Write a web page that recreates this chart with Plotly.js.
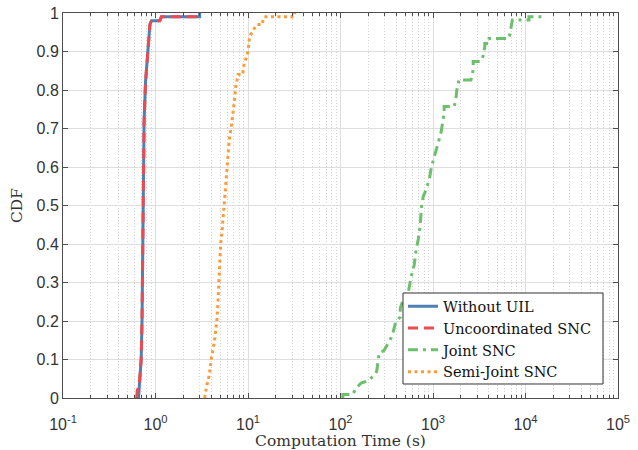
<!DOCTYPE html>
<html>
<head>
<meta charset="utf-8">
<script src="https://cdn.plot.ly/plotly-3.0.1.min.js"></script>
<style>
  html, body { margin: 0; padding: 0; background: #fff; }
  #chart { width: 638px; height: 450px; }
</style>
</head>
<body>
<div id="chart"></div>
<script>
// Empirical CDFs of computation time (seconds) for each scheme
const seriesNames = ["Without UIL", "Uncoordinated SNC", "Joint SNC", "Semi-Joint SNC"];

const withoutUilTime = [0.655, 0.665, 0.70, 0.715, 0.73, 0.74, 0.753, 0.78, 0.82, 0.87, 0.905, 1.11, 1.16, 3.0, 3.0];
const withoutUilCdf  = [0, 0.03, 0.1, 0.2, 0.4, 0.55, 0.72, 0.82, 0.9, 0.97, 0.98, 0.98, 0.99, 0.99, 1.0];

const uncoordTime = [0.625, 0.635, 0.665, 0.70, 0.715, 0.73, 0.74, 0.753, 0.78, 0.82, 0.87, 0.905, 1.11, 1.16, 2.95];
const uncoordCdf  = [0, 0.02, 0.03, 0.1, 0.2, 0.4, 0.55, 0.72, 0.82, 0.9, 0.97, 0.98, 0.98, 0.99, 0.99];

const jointTime = [106, 106, 135, 148, 167, 189, 209, 232, 246, 252, 257, 262, 295, 322, 352, 372, 390, 397, 443, 443,
                   468, 518, 543, 575, 627, 653, 696, 728, 751, 783, 837, 910, 964, 1030, 1120, 1217, 1268, 1319, 1319,
                   1694, 1765, 1810, 1887, 1887, 2570, 2690, 2720, 2720, 3280, 3470, 3630, 3630, 4040, 4040, 6640, 6760,
                   6920, 7210, 10900, 10900, 15100, 15100];
const jointCdf  = [0, 0.009, 0.009, 0.026, 0.039, 0.043, 0.049, 0.06, 0.069, 0.086, 0.104, 0.117, 0.123, 0.138, 0.156,
                   0.173, 0.19, 0.199, 0.21, 0.234, 0.25, 0.264, 0.277, 0.31, 0.346, 0.38, 0.415, 0.45, 0.497, 0.523,
                   0.54, 0.567, 0.601, 0.627, 0.653, 0.688, 0.714, 0.74, 0.757, 0.757, 0.774, 0.8, 0.818, 0.826, 0.826,
                   0.843, 0.865, 0.874, 0.874, 0.887, 0.913, 0.921, 0.921, 0.934, 0.934, 0.947, 0.964, 0.982, 0.982,
                   0.99, 0.99, 1.0];

const semiTime = [3.4, 3.55, 3.82, 4.0, 4.33, 4.6, 4.74, 4.82, 4.9, 5.06, 5.27, 5.36, 5.6, 5.84, 6.05, 6.27, 6.6, 6.8,
                  6.95, 7.2, 7.35, 7.5, 7.7, 7.8, 8.75, 8.9, 9.1, 9.5, 10.0, 10.3, 10.6, 11.2, 11.7, 12.6, 14.3, 14.5,
                  15.0, 31.8, 31.8];
const semiCdf  = [0, 0.027, 0.06, 0.1, 0.147, 0.2, 0.25, 0.3, 0.346, 0.398, 0.44, 0.463, 0.515, 0.567, 0.62, 0.67, 0.705,
                  0.727, 0.753, 0.78, 0.807, 0.82, 0.833, 0.84, 0.84, 0.858, 0.87, 0.882, 0.9, 0.93, 0.943, 0.95, 0.96,
                  0.97, 0.97, 0.98, 0.99, 0.99, 1.0];

const xTickVals = [0.1, 1, 10, 100, 1000, 10000, 100000];
const xTickText = ["10<sup>-1</sup>", "10<sup>0</sup>", "10<sup>1</sup>", "10<sup>2</sup>", "10<sup>3</sup>", "10<sup>4</sup>", "10<sup>5</sup>"];

const colors = ["#4f7fb3", "#ef4950", "#6cbf6b", "#fd9a3a"];
const dashes = ["solid", "10px,6px", "10px,5px,3px,5px", "3px,3.5px"];

const traces = [
  { x: withoutUilTime, y: withoutUilCdf },
  { x: uncoordTime, y: uncoordCdf },
  { x: jointTime, y: jointCdf },
  { x: semiTime, y: semiCdf }
].map((d, i) => ({
  x: d.x, y: d.y, name: seriesNames[i], type: "scatter", mode: "lines",
  line: { color: colors[i], width: 3, dash: dashes[i] }
}));

const serif = '"DejaVu Serif", "Liberation Serif", serif';
const sans = '"Liberation Sans", Arial, sans-serif';
const axisLine = "#4d4d4d";

// Legend frame: a white box drawn over the curves, the legend entries sit inside it
const legendBox = { x0: 0.6126, x1: 0.973, y0: 0.0364, y1: 0.2727 };

const layout = {
  width: 638, height: 450,
  margin: { l: 63, r: 20, t: 13, b: 52 },
  paper_bgcolor: "#fff", plot_bgcolor: "#fff",
  showlegend: true,
  legend: {
    x: legendBox.x0, y: legendBox.y0 - 0.011, xanchor: "left", yanchor: "bottom",
    bgcolor: "rgba(0,0,0,0)", borderwidth: 0,
    font: { family: serif, size: 14.5, color: "#111" },
    tracegroupgap: 0
  },
  shapes: [{
    type: "rect", xref: "paper", yref: "paper", layer: "above",
    x0: legendBox.x0, x1: legendBox.x1, y0: legendBox.y0, y1: legendBox.y1,
    fillcolor: "#fff", line: { color: "#333", width: 1 }
  }],
  xaxis: {
    type: "log", range: [-1, 5],
    tickvals: xTickVals, ticktext: xTickText,
    tickfont: { family: sans, size: 16, color: "#333" },
    ticklabelstandoff: 12,
    ticks: "inside", ticklen: 5, tickcolor: axisLine,
    showline: true, linecolor: axisLine, linewidth: 1, mirror: "allticks",
    showgrid: true, gridcolor: "#dedede", gridwidth: 1,
    minor: { dtick: "D1", ticks: "inside", ticklen: 3, tickcolor: axisLine, showgrid: true, gridcolor: "#d4d4d4", griddash: "1px,2px", gridwidth: 1 },
    zeroline: false,
    title: { text: "Computation Time (s)", font: { family: serif, size: 15.5, color: "#333" }, standoff: 4 }
  },
  yaxis: {
    range: [0, 1], dtick: 0.1,
    tickfont: { family: sans, size: 16, color: "#333" },
    ticks: "inside", ticklen: 5, tickcolor: axisLine,
    showline: true, linecolor: axisLine, linewidth: 1, mirror: "allticks",
    showgrid: true, gridcolor: "#dedede", gridwidth: 1,
    zeroline: false,
    title: { text: "CDF", font: { family: serif, size: 15.5, color: "#333" }, standoff: 10 }
  }
};

Plotly.newPlot("chart", traces, layout, { displayModeBar: false, staticPlot: true });
</script>
</body>
</html>
